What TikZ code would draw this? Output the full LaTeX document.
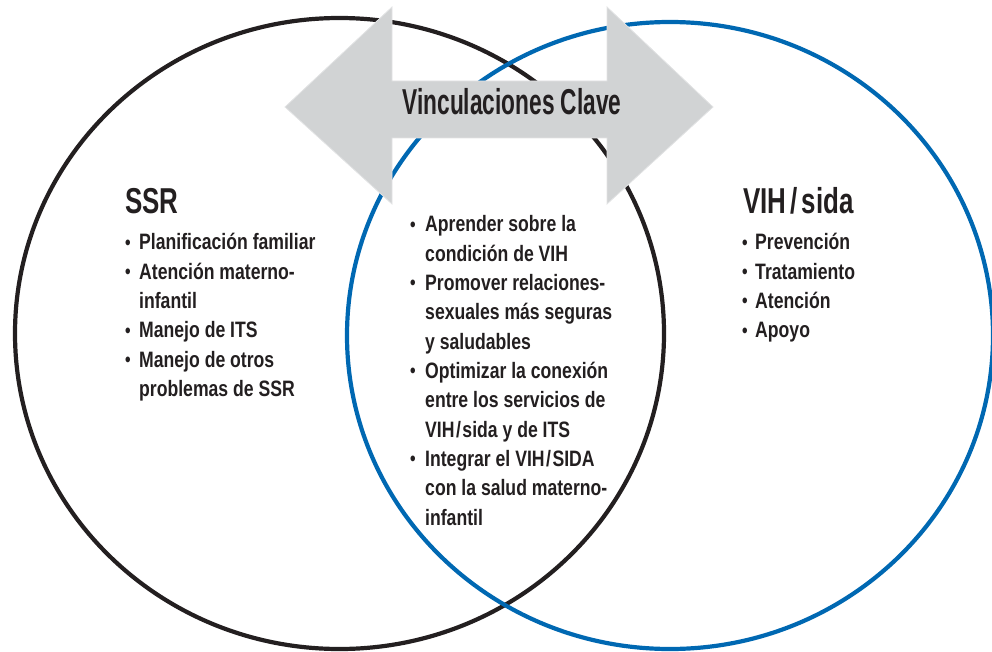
\documentclass[tikz,border=0pt]{standalone}
\usepackage{fontspec}
\usepackage{graphicx}
\setmainfont{Liberation Sans}
\newfontfamily\bodyfont[FakeStretch=0.79]{Liberation Sans}
\newfontfamily\headfont[FakeStretch=0.72]{Liberation Sans}
\newfontfamily\arrowfont[FakeStretch=0.63]{Liberation Sans}
\definecolor{ink}{HTML}{231F20}
\definecolor{vihblue}{RGB}{0,104,178}
\definecolor{arrowgray}{HTML}{D1D3D4}
\definecolor{arrowedge}{HTML}{E2E3E4}
\newcommand\bul[1]{\makebox[#1][l]{\raisebox{0.6pt}{\bodyfont\bfseries\fontsize{20}{20}\selectfont •}}}
\tikzset{
  listtext/.style={anchor=base west, inner sep=0pt, text=ink,
    font=\bodyfont\bfseries\fontsize{22.3}{29.3}\selectfont},
  headtext/.style={anchor=base west, inner sep=0pt, text=ink,
    font=\headfont\bfseries\fontsize{36}{40}\selectfont},
  arrowtitle/.style={anchor=base, inner sep=0pt, text=ink,
    font=\arrowfont\bfseries\fontsize{36}{40}\selectfont},
  ring/.style={line width=4.2pt},
}
\begin{document}
\begin{tikzpicture}[x=1pt,y=-1pt]
\useasboundingbox (0,0) rectangle (992,652);
\clip (0,0) rectangle (992,652);
% circles
\draw[ring, draw=ink] (339.5,333.5) ellipse [x radius=324.5, y radius=315.5];
\draw[ring, draw=vihblue] (670,335.5) ellipse [x radius=323, y radius=313.5];
% double arrow
\path[fill=arrowgray, draw=arrowedge, line width=0.8pt]
  (285,107) -- (392,7) -- (392,81) -- (607,81) -- (607,7) -- (713,107)
  -- (607,204) -- (607,138) -- (392,138) -- (392,204) -- cycle;
\node[arrowtitle] (key) at (512,115) {Vinculaciones Clave};
% left
\node[headtext] (ssr) at (125,214) {SSR};
\node[listtext] (ssrlist) at (125,250) {\begin{tabular}[t]{@{}l@{}l@{}}
\bul{14pt}&Planificación familiar\\
\bul{14pt}&Atención materno-\\
&infantil\\
\bul{14pt}&Manejo de ITS\\
\bul{14pt}&Manejo de otros\\
&problemas de SSR
\end{tabular}};
% middle
\node[listtext] (midlist) at (410,232) {\begin{tabular}[t]{@{}l@{}l@{}}
\bul{15pt}&Aprender sobre la\\
&condición de VIH\\
\bul{15pt}&Promover relaciones-\\
&sexuales más seguras\\
&y saludables\\
\bul{15pt}&Optimizar la conexión\\
&entre los servicios de\\
&VIH\kern1.5pt/\kern1.5pt sida y de ITS\\
\bul{15pt}&Integrar el VIH\kern1.5pt/\kern1.5pt SIDA\\
&con la salud materno-\\
&infantil
\end{tabular}};
% right
\node[headtext] (vih) at (743,214) {VIH\kern4pt/\kern4pt sida};
\node[listtext] (vihlist) at (742,250) {\begin{tabular}[t]{@{}l@{}l@{}}
\bul{13pt}&Prevención\\
\bul{13pt}&Tratamiento\\
\bul{13pt}&Atención\\
\bul{13pt}&Apoyo
\end{tabular}};
\end{tikzpicture}
\end{document}
